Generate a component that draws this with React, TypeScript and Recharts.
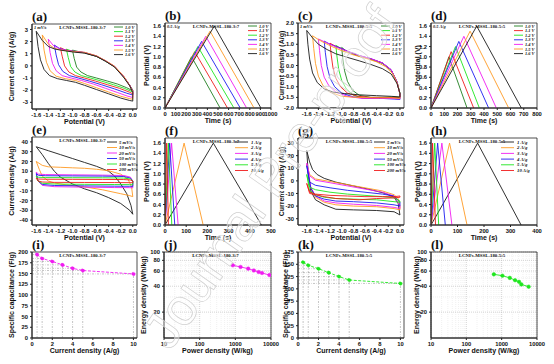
import React from 'react'
import { LineChart, Line, XAxis, YAxis, CartesianGrid, ReferenceLine, ReferenceArea } from 'recharts'

type Pt = [number, number]
type Box = { l: number; r: number; t: number; b: number }

const SANS = '"Liberation Sans", Arial, Helvetica, sans-serif'
const SERIF = '"Liberation Serif", "Times New Roman", serif'

const BLACK = '#1a1a1a'
const DKGREEN = '#1f7f1f'
const GREEN = '#1ee61e'
const RED = '#f01c1c'
const BLUE = '#1c1cf0'
const MAGENTA = '#f01cf0'
const ORANGE = '#ff9a22'

// ---------- (a) CV, different windows, 1 mV/s, 3:7 ----------
const windowLabels = ['1.0 V', '1.1 V', '1.2 V', '1.3 V', '1.4 V', '1.5 V', '1.6 V']
const a10: Pt[] = [[0, -2.05], [-0.1, -1.8], [-0.25, -1.5], [-0.42, -1.25], [-0.6, -1.0], [-0.75, -0.8], [-0.86, -0.5], [-0.93, -0.1], [-0.97, 0.6], [-1.0, 1.3], [-0.9, 1.18], [-0.8, 1.08], [-0.6, 0.78], [-0.45, 0.38], [-0.3, -0.08], [-0.15, -0.92], [-0.05, -1.6], [0, -2.0], [0, -2.05]]
const a11: Pt[] = [[0, -2.15], [-0.14, -1.85], [-0.32, -1.55], [-0.52, -1.25], [-0.7, -1.0], [-0.85, -0.8], [-0.96, -0.5], [-1.03, -0.05], [-1.07, 0.7], [-1.1, 1.38], [-1.02, 1.24], [-0.9, 1.14], [-0.8, 1.08], [-0.6, 0.79], [-0.45, 0.39], [-0.3, -0.07], [-0.15, -0.9], [-0.05, -1.6], [0, -2.02], [0, -2.15]]
const a12: Pt[] = [[0, -2.3], [-0.06, -2.15], [-0.22, -1.85], [-0.42, -1.55], [-0.62, -1.25], [-0.8, -1.0], [-0.95, -0.8], [-1.06, -0.5], [-1.13, 0.0], [-1.17, 0.8], [-1.2, 1.5], [-1.12, 1.32], [-1.0, 1.2], [-0.8, 1.09], [-0.6, 0.8], [-0.45, 0.4], [-0.3, -0.06], [-0.15, -0.9], [-0.05, -1.6], [0, -2.05], [0, -2.3]]
const a13: Pt[] = [[0, -2.4], [-0.1, -2.25], [-0.3, -1.9], [-0.52, -1.55], [-0.72, -1.25], [-0.9, -1.0], [-1.05, -0.8], [-1.16, -0.45], [-1.23, 0.1], [-1.27, 0.9], [-1.3, 1.72], [-1.22, 1.45], [-1.12, 1.3], [-1.0, 1.2], [-0.8, 1.1], [-0.6, 0.81], [-0.45, 0.41], [-0.3, -0.05], [-0.15, -0.88], [-0.05, -1.6], [0, -2.08], [0, -2.4]]
const a14: Pt[] = [[0, -2.6], [-0.08, -2.5], [-0.25, -2.2], [-0.45, -1.85], [-0.65, -1.5], [-0.85, -1.2], [-1.02, -1.0], [-1.17, -0.8], [-1.27, -0.4], [-1.33, 0.2], [-1.37, 1.1], [-1.4, 2.2], [-1.32, 1.7], [-1.22, 1.42], [-1.1, 1.28], [-0.9, 1.16], [-0.8, 1.11], [-0.6, 0.82], [-0.45, 0.42], [-0.3, -0.04], [-0.15, -0.86], [-0.05, -1.6], [0, -2.1], [0, -2.6]]
const a15: Pt[] = [[0, -2.75], [-0.05, -2.7], [-0.2, -2.5], [-0.4, -2.15], [-0.6, -1.8], [-0.8, -1.45], [-0.95, -1.2], [-1.12, -1.05], [-1.27, -0.85], [-1.37, -0.4], [-1.43, 0.3], [-1.47, 1.3], [-1.5, 2.55], [-1.4, 1.8], [-1.3, 1.45], [-1.2, 1.32], [-1.0, 1.18], [-0.8, 1.12], [-0.6, 0.83], [-0.45, 0.43], [-0.3, -0.03], [-0.15, -0.85], [-0.05, -1.62], [0, -2.15], [0, -2.75]]
const a16: Pt[] = [[0, -2.9], [-0.05, -2.85], [-0.2, -2.65], [-0.4, -2.3], [-0.6, -1.95], [-0.8, -1.6], [-0.95, -1.35], [-1.1, -1.2], [-1.25, -1.05], [-1.38, -0.8], [-1.47, -0.3], [-1.53, 0.5], [-1.57, 1.6], [-1.6, 2.85], [-1.5, 2.1], [-1.4, 1.6], [-1.3, 1.4], [-1.2, 1.3], [-1.0, 1.15], [-0.8, 1.05], [-0.6, 0.78], [-0.45, 0.38], [-0.3, -0.1], [-0.15, -0.95], [-0.05, -1.65], [0, -2.2], [0, -2.9]]

// ---------- (c) CV, different windows, 1 mV/s, 5:5 ----------
const c10: Pt[] = [[0, -1.5], [-0.1, -1.48], [-0.3, -1.5], [-0.5, -1.5], [-0.7, -1.4], [-0.82, -1.15], [-0.9, -0.75], [-0.95, -0.25], [-0.98, 0.3], [-1.0, 0.85], [-0.9, 0.64], [-0.7, 0.44], [-0.5, 0.29], [-0.3, 0.1], [-0.15, -0.22], [-0.05, -0.78], [0, -1.3], [0, -1.5]]
const c11: Pt[] = [[0, -1.5], [-0.2, -1.5], [-0.4, -1.55], [-0.62, -1.55], [-0.8, -1.4], [-0.92, -1.1], [-1.0, -0.7], [-1.05, -0.2], [-1.08, 0.4], [-1.1, 0.95], [-1.0, 0.78], [-0.9, 0.65], [-0.7, 0.45], [-0.5, 0.3], [-0.3, 0.11], [-0.15, -0.22], [-0.05, -0.78], [0, -1.32], [0, -1.5]]
const c12: Pt[] = [[0, -1.52], [-0.25, -1.5], [-0.5, -1.5], [-0.72, -1.45], [-0.9, -1.3], [-1.02, -1.0], [-1.1, -0.6], [-1.15, -0.1], [-1.18, 0.5], [-1.2, 1.05], [-1.1, 0.9], [-1.0, 0.79], [-0.9, 0.66], [-0.7, 0.46], [-0.5, 0.31], [-0.3, 0.12], [-0.15, -0.21], [-0.05, -0.78], [0, -1.33], [0, -1.52]]
const c13: Pt[] = [[0, -1.6], [-0.1, -1.58], [-0.3, -1.55], [-0.55, -1.55], [-0.8, -1.48], [-1.0, -1.3], [-1.12, -1.0], [-1.2, -0.6], [-1.25, -0.05], [-1.28, 0.6], [-1.3, 1.15], [-1.2, 1.0], [-1.1, 0.9], [-1.0, 0.8], [-0.9, 0.67], [-0.7, 0.47], [-0.5, 0.32], [-0.3, 0.12], [-0.15, -0.2], [-0.05, -0.78], [0, -1.34], [0, -1.6]]
const c14: Pt[] = [[0, -1.57], [-0.1, -1.55], [-0.35, -1.55], [-0.65, -1.55], [-0.9, -1.45], [-1.1, -1.25], [-1.22, -0.95], [-1.3, -0.55], [-1.35, 0.0], [-1.38, 0.7], [-1.4, 1.25], [-1.3, 1.12], [-1.2, 1.0], [-1.05, 0.82], [-0.9, 0.67], [-0.7, 0.47], [-0.5, 0.32], [-0.3, 0.12], [-0.15, -0.2], [-0.05, -0.78], [0, -1.35], [0, -1.57]]
const c15: Pt[] = [[0, -1.55], [-0.15, -1.52], [-0.45, -1.52], [-0.75, -1.5], [-1.0, -1.45], [-1.2, -1.25], [-1.32, -0.95], [-1.4, -0.5], [-1.45, 0.1], [-1.48, 0.8], [-1.5, 1.4], [-1.4, 1.22], [-1.3, 1.07], [-1.15, 0.87], [-1.0, 0.7], [-0.8, 0.5], [-0.6, 0.35], [-0.4, 0.17], [-0.25, -0.05], [-0.12, -0.4], [-0.04, -0.88], [0, -1.35], [0, -1.55]]
const c16: Pt[] = [[0, -1.48], [-0.15, -1.45], [-0.4, -1.42], [-0.7, -1.38], [-0.95, -1.32], [-1.15, -1.25], [-1.3, -1.1], [-1.42, -0.8], [-1.5, -0.35], [-1.55, 0.3], [-1.58, 1.0], [-1.6, 1.65], [-1.5, 1.3], [-1.4, 1.0], [-1.25, 0.75], [-1.1, 0.55], [-0.9, 0.38], [-0.7, 0.22], [-0.5, 0.05], [-0.3, -0.15], [-0.15, -0.4], [-0.05, -0.85], [0, -1.3], [0, -1.48]]

// ---------- (e) CV, scan rates, 3:7 ----------
const scanLabels = ['5 mV/s', '10 mV/s', '20 mV/s', '50 mV/s', '100 mV/s', '200 mV/s']
const e5: Pt[] = [[0, -34], [-0.05, -30], [-0.2, -23], [-0.4, -17], [-0.6, -12], [-0.8, -8], [-1.0, -3], [-1.2, 4], [-1.3, 10], [-1.4, 18], [-1.5, 27], [-1.6, 35], [-1.4, 31], [-1.2, 27], [-1.0, 23], [-0.8, 19], [-0.6, 15], [-0.4, 10], [-0.3, 5], [-0.2, -3], [-0.1, -13], [-0.03, -25], [0, -34]]
const e10: Pt[] = [[0, -16], [-0.05, -15], [-0.2, -13], [-0.5, -9], [-0.8, -6], [-1.1, -4], [-1.3, -2], [-1.4, 0], [-1.5, 5], [-1.55, 12], [-1.6, 20], [-1.5, 16], [-1.4, 14.5], [-1.2, 14], [-1.0, 13.5], [-0.8, 13], [-0.6, 12], [-0.4, 10.5], [-0.2, 7], [-0.08, 2], [-0.02, -6], [0, -16]]
const e20: Pt[] = [[0, -7], [-0.05, -6.8], [-0.3, -6.7], [-0.8, -6.3], [-1.3, -5.8], [-1.5, -4.5], [-1.57, 0], [-1.6, 9], [-1.56, 7], [-1.45, 6.6], [-1.0, 6.3], [-0.5, 6.0], [-0.15, 5.6], [-0.04, 4], [0, 0], [0, -7]]
const e50: Pt[] = [[0, -5.5], [-0.05, -5.4], [-0.3, -5.3], [-0.8, -5.0], [-1.3, -4.6], [-1.5, -3.5], [-1.57, 0], [-1.6, 7.5], [-1.56, 5.8], [-1.45, 5.4], [-1.0, 5.2], [-0.5, 5.0], [-0.15, 4.6], [-0.04, 3], [0, 0], [0, -5.5]]
const e100: Pt[] = [[0, -3.8], [-0.05, -3.7], [-0.3, -3.6], [-0.8, -3.4], [-1.3, -3.1], [-1.5, -2.3], [-1.57, 0], [-1.6, 5], [-1.56, 3.8], [-1.45, 3.5], [-1.0, 3.4], [-0.5, 3.3], [-0.15, 3.0], [-0.04, 2], [0, 0], [0, -3.8]]
const e200: Pt[] = [[0, -1.8], [-0.05, -1.7], [-0.3, -1.6], [-0.8, -1.5], [-1.3, -1.4], [-1.5, -1.0], [-1.57, 0], [-1.6, 2.8], [-1.56, 2.0], [-1.45, 1.8], [-1.0, 1.7], [-0.5, 1.6], [-0.15, 1.5], [-0.04, 1], [0, 0], [0, -1.8]]

// ---------- (g) CV, scan rates, 5:5 ----------
const g5: Pt[] = [[0, -27], [-0.1, -24.5], [-0.4, -23.5], [-0.8, -23], [-1.1, -22.5], [-1.3, -19], [-1.45, -15], [-1.53, -8], [-1.57, 3], [-1.6, 24], [-1.55, 15], [-1.5, 9], [-1.42, 5], [-1.3, 2], [-1.1, -1], [-0.8, -4], [-0.5, -7], [-0.25, -10], [-0.1, -13], [-0.03, -18], [0, -27]]
const g10: Pt[] = [[0, -23], [-0.1, -22], [-0.4, -20.5], [-0.8, -20], [-1.1, -19], [-1.3, -17], [-1.45, -13], [-1.53, -6], [-1.6, 13], [-1.55, 5], [-1.45, 1.5], [-1.2, -0.5], [-0.9, -3], [-0.6, -5.5], [-0.3, -8], [-0.1, -11], [-0.03, -14], [0, -20], [0, -23]]
const g20: Pt[] = [[0, -22], [-0.1, -21], [-0.4, -19.5], [-0.8, -18.5], [-1.1, -17.5], [-1.3, -16], [-1.45, -12], [-1.53, -5], [-1.6, 14], [-1.55, 4], [-1.45, 0.5], [-1.2, -1.5], [-0.9, -4], [-0.6, -6.5], [-0.3, -9], [-0.1, -12], [0, -20], [0, -22]]
const g50: Pt[] = [[0, -20], [-0.1, -19], [-0.4, -17.5], [-0.8, -16.5], [-1.1, -16], [-1.3, -14.5], [-1.45, -12], [-1.53, -6], [-1.6, 12], [-1.55, -1], [-1.45, -3.5], [-1.2, -5.5], [-0.9, -7.5], [-0.6, -9], [-0.3, -10.5], [-0.1, -12], [0, -17], [0, -20]]
const g100: Pt[] = [[0, -17], [-0.1, -16.5], [-0.4, -15], [-0.8, -14.5], [-1.1, -14], [-1.3, -13], [-1.45, -11], [-1.55, -8], [-1.6, 5], [-1.55, -5], [-1.45, -7], [-1.2, -9], [-0.9, -10.5], [-0.6, -11.5], [-0.3, -12.5], [-0.1, -13.5], [0, -16], [0, -17]]
const g200: Pt[] = [[0, -13], [-0.1, -13.5], [-0.4, -14], [-0.7, -15], [-0.9, -14.5], [-1.1, -14], [-1.3, -12.5], [-1.45, -11], [-1.55, -10], [-1.6, -2], [-1.55, -9], [-1.45, -10.5], [-1.2, -11.5], [-0.9, -12], [-0.6, -12.5], [-0.3, -12.5], [-0.1, -12.5], [0, -12], [0, -13]]

// ---------- GCD triangles ----------
const windowVolts = [1.0, 1.1, 1.2, 1.3, 1.4, 1.5, 1.6]
const bPeaks = [250, 280, 310, 345, 385, 425, 465]
const bEnds = [520, 590, 650, 710, 770, 840, 905]
const dPeaks = [135, 152, 185, 210, 248, 295, 345]
const dEnds = [272, 322, 365, 435, 493, 586, 682]

const rateLabels = ['1 A/g', '2 A/g', '3 A/g', '4 A/g', '5 A/g', '10 A/g']
const fPeaks = [228, 90, 31, 22, 16, 8]
const fEnds = [455, 180, 62, 46, 32, 16]
const hPeaks = [176, 70, 41, 25, 14, 6]
const hEnds = [340, 136, 79, 54, 29, 17]

// ---------- rate capability ----------
const currentDensity = [0.5, 1, 2, 3, 4, 5, 10]
const iCapacitance = [194, 185, 178, 170, 162, 157, 149]
const kCapacitance = [154, 148, 141, 133, 125, 118, 111]

// ---------- Ragone ----------
const jPower = [850, 1400, 2300, 3300, 4500, 5600, 9000]
const jEnergy = [70, 67, 64, 61, 58.5, 57, 54]
const lPower = [600, 1050, 1700, 2400, 3100, 3600, 5800]
const lEnergy = [55, 53, 50, 47, 45, 42, 39.5]

// ---------- ticks ----------
const cvXTicks = [-1.6, -1.4, -1.2, -1.0, -0.8, -0.6, -0.4, -0.2, 0]
const aYTicks = [-3, -2, -1, 0, 1, 2, 3]
const cYTicks = [-2, -1.5, -1, -0.5, 0, 0.5, 1, 1.5, 2]
const eYTicks = [-40, -30, -20, -10, 0, 10, 20, 30, 40]
const gYTicks = [-30, -20, -10, 0, 10, 20, 30]
const potTicks = [0, 0.2, 0.4, 0.6, 0.8, 1.0, 1.2, 1.4, 1.6]
const bXTicks = [0, 100, 200, 300, 400, 500, 600, 700, 800, 900, 1000]
const dXTicks = [0, 100, 200, 300, 400, 500, 600, 700, 800]
const fXTicks = [0, 100, 200, 300, 400, 500]
const hXTicks = [0, 100, 200, 300, 400]
const rateXTicks = [0, 2, 4, 6, 8, 10]
const iYTicks = [0, 25, 50, 75, 100, 125, 150, 175, 200]
const kYTicks = [0, 25, 50, 75, 100, 125, 150, 175]
const powerTicks = [10, 100, 1000, 10000]
const energyTicks = [20, 40, 60, 80, 100]
const powerMinor = [20, 30, 40, 50, 60, 70, 80, 90, 200, 300, 400, 500, 600, 700, 800, 900, 2000, 3000, 4000, 5000, 6000, 7000, 8000, 9000]
const energyMinor = [30, 50, 70, 90]

const windowColors = [DKGREEN, GREEN, RED, BLUE, MAGENTA, ORANGE, BLACK]
const gcdWindowColors = [DKGREEN, RED, GREEN, BLUE, MAGENTA, ORANGE, BLACK]
const rateColors = [BLACK, ORANGE, MAGENTA, BLUE, GREEN, RED]

const boxA: Box = { l: 32, r: 137, t: 24, b: 109 }
const boxB: Box = { l: 165, r: 271, t: 23, b: 108 }
const boxC: Box = { l: 298, r: 404, t: 23, b: 108 }
const boxD: Box = { l: 431, r: 537, t: 23, b: 108 }
const boxE: Box = { l: 32, r: 137, t: 137, b: 225 }
const boxF: Box = { l: 165, r: 271, t: 138, b: 225 }
const boxG: Box = { l: 298, r: 404, t: 138, b: 225 }
const boxH: Box = { l: 431, r: 537, t: 138, b: 225 }
const boxI: Box = { l: 32, r: 137, t: 252, b: 338 }
const boxJ: Box = { l: 164, r: 271, t: 252, b: 338 }
const boxK: Box = { l: 298, r: 404, t: 252, b: 338 }
const boxL: Box = { l: 431, r: 537, t: 252, b: 338 }

const tickFont = { fontSize: 5.8, fontWeight: 700, fill: '#111', fontFamily: SANS }
const fix1 = (v: number) => v.toFixed(1)
const plain = (v: number) => String(v)
const xy = (pts: Pt[]) => pts.map(([x, y]) => ({ x, y }))
const tri = (peak: number, end: number, v: number) => [
  { x: 0, y: 0 },
  { x: peak, y: v },
  { x: end, y: 0 }
]

function xAxis(domain: number[], ticks: number[], fmt: (v: number) => string, log = false) {
  return (
    <XAxis
      dataKey="x"
      type="number"
      scale={log ? 'log' : 'linear'}
      domain={domain}
      ticks={ticks}
      interval={0}
      tickFormatter={fmt}
      allowDataOverflow
      height={14}
      tick={tickFont}
      tickSize={2}
      tickLine={{ stroke: '#222' }}
      axisLine={{ stroke: '#222' }}
    />
  )
}

function yAxis(domain: number[], ticks: number[], fmt: (v: number) => string, log = false) {
  return (
    <YAxis
      type="number"
      scale={log ? 'log' : 'linear'}
      domain={domain}
      ticks={ticks}
      interval={0}
      tickFormatter={fmt}
      allowDataOverflow
      width={32}
      tick={tickFont}
      tickSize={2}
      tickLine={{ stroke: '#222' }}
      axisLine={{ stroke: '#222' }}
    />
  )
}

function frame(xd: number[], yd: number[]) {
  return <ReferenceArea x1={xd[0]} x2={xd[1]} y1={yd[0]} y2={yd[1]} fill="none" stroke="#222" strokeWidth={0.8} ifOverflow="visible" />
}

function series(data: { x: number; y: number }[], color: string, key: string, width = 0.9) {
  return <Line key={key} data={data} dataKey="y" type="linear" stroke={color} strokeWidth={width} dot={false} isAnimationActive={false} />
}

function Panel({ box, children }: { box: Box; children: React.ReactNode }) {
  return (
    <div style={{ position: 'absolute', left: box.l - 32, top: box.t - 5 }}>
      <LineChart width={box.r - box.l + 42} height={box.b - box.t + 19} margin={{ top: 5, right: 10, left: 0, bottom: 0 }}>
        {children}
      </LineChart>
    </div>
  )
}

type Legend = { labels: string[]; colors: string[]; lineDx: number; lineLen: number; textDx: number; y0: number; dy: number; fs: number }

function Decor({ box, letter, xTitle, yTitle, yTitleX, sample, note, legend }: {
  box: Box; letter: string; xTitle: string; yTitle: string; yTitleX: number; sample: string; note?: string; legend?: Legend
}) {
  const cx = (box.l + box.r) / 2
  const cy = (box.t + box.b) / 2
  return (
    <g>
      <text x={box.l} y={box.t - 3} fontFamily={SERIF} fontWeight="bold" fontSize={13} fill="#111">({letter})</text>
      <text x={cx} y={box.b + 14.5} textAnchor="middle" fontFamily={SANS} fontWeight="bold" fontSize={7} fill="#111">{xTitle}</text>
      <text transform={`translate(${yTitleX},${cy}) rotate(-90)`} textAnchor="middle" dy="0.35em" fontFamily={SANS} fontWeight="bold" fontSize={7} fill="#111">{yTitle}</text>
      <text x={cx - 2} y={box.t + 5} textAnchor="middle" fontFamily={SERIF} fontWeight="bold" fontSize={4.8} fill="#111">{sample}</text>
      {note && <text x={box.l + 2} y={box.t + 5} fontFamily={SERIF} fontStyle="italic" fontWeight="bold" fontSize={4.4} fill="#111">{note}</text>}
      {legend && legend.labels.map((lab, i) => {
        const y = box.t + legend.y0 + i * legend.dy
        return (
          <g key={lab}>
            <line x1={box.r - legend.lineDx} x2={box.r - legend.lineDx + legend.lineLen} y1={y} y2={y} stroke={legend.colors[i]} strokeWidth={0.9} />
            <text x={box.r - legend.textDx} y={y} dy="0.35em" fontFamily={SERIF} fontStyle="italic" fontWeight="bold" fontSize={legend.fs} fill="#111">{lab}</text>
          </g>
        )
      })}
    </g>
  )
}

const row1Legend = (labels: string[], colors: string[]): Legend => ({ labels, colors, lineDx: 23, lineLen: 9, textDx: 12, y0: 3, dy: 4.6, fs: 4.4 })

export default function App() {
  const aX = [-1.67, 0.07]
  const cX = [-1.75, 0.07]
  const aY = [-3.55, 3.45]
  const cY = [-2, 2]
  const eY = [-45, 45]
  const gY = [-35, 34]
  const pot1 = [0, 1.66]
  const pot2 = [0, 1.7]
  const rateX = [0, 10.35]
  const logX = [10, 10000]
  const logY = [10, 100]

  const aLoops = [a10, a11, a12, a13, a14, a15, a16]
  const cLoops = [c10, c11, c12, c13, c14, c15, c16]
  const eLoops = [e5, e10, e20, e50, e100, e200]
  const gLoops = [g5, g10, g20, g50, g100, g200]

  const rateBlock = (caps: number[], color: string, key: string) => [
    ...currentDensity.map((c, i) => (
      <ReferenceLine key={`${key}v${i}`} segment={[{ x: c, y: 0 }, { x: c, y: caps[i] }]} stroke="#8a8a8a" strokeWidth={0.5} strokeDasharray="2 1.2 0.6 1.2" />
    )),
    ...currentDensity.map((c, i) => (
      <ReferenceLine key={`${key}h${i}`} segment={[{ x: 0, y: caps[i] }, { x: c, y: caps[i] }]} stroke="#8a8a8a" strokeWidth={0.5} strokeDasharray="2 1.2 0.6 1.2" />
    )),
    <Line key={`${key}line`} data={currentDensity.map((c, i) => ({ x: c, y: caps[i] }))} dataKey="y" type="linear" stroke={color} strokeWidth={0.9} strokeDasharray="3 1.5"
      dot={{ r: 1.8, fill: color, stroke: color, strokeWidth: 0.5 }} isAnimationActive={false} />
  ]

  const ragone = (p: number[], e: number[], color: string, key: string) => [
    <CartesianGrid key={`${key}gm`} horizontalValues={energyMinor} verticalValues={powerMinor} stroke="#e2e2e2" strokeDasharray="1 1" strokeWidth={0.5} />,
    <CartesianGrid key={`${key}gM`} horizontalValues={energyTicks} verticalValues={powerTicks} stroke="#b8b8b8" strokeDasharray="1 1" strokeWidth={0.6} />,
    <Line key={`${key}line`} data={p.map((x, i) => ({ x, y: e[i] }))} dataKey="y" type="linear" stroke={color} strokeWidth={0.9}
      dot={{ r: 1.8, fill: color, stroke: color, strokeWidth: 0.5 }} isAnimationActive={false} />
  ]

  return (
    <div style={{ position: 'absolute', left: 0, top: 0, width: 554, height: 364, background: '#fff', overflow: 'hidden' }}>
      <Panel box={boxA}>
        {xAxis(aX, cvXTicks, fix1)}
        {yAxis(aY, aYTicks, plain)}
        {frame(aX, aY)}
        {aLoops.map((p, i) => series(xy(p), windowColors[i], `a${i}`))}
      </Panel>
      <Panel box={boxB}>
        {xAxis([0, 1000], bXTicks, plain)}
        {yAxis(pot1, potTicks, fix1)}
        {frame([0, 1000], pot1)}
        {windowVolts.map((v, i) => series(tri(bPeaks[i], bEnds[i], v), gcdWindowColors[i], `b${i}`))}
      </Panel>
      <Panel box={boxC}>
        {xAxis(cX, cvXTicks, fix1)}
        {yAxis(cY, cYTicks, fix1)}
        {frame(cX, cY)}
        {cLoops.map((p, i) => series(xy(p), windowColors[i], `c${i}`))}
      </Panel>
      <Panel box={boxD}>
        {xAxis([0, 800], dXTicks, plain)}
        {yAxis(pot1, potTicks, fix1)}
        {frame([0, 800], pot1)}
        {windowVolts.map((v, i) => series(tri(dPeaks[i], dEnds[i], v), gcdWindowColors[i], `d${i}`))}
      </Panel>
      <Panel box={boxE}>
        {xAxis(aX, cvXTicks, fix1)}
        {yAxis(eY, eYTicks, plain)}
        {frame(aX, eY)}
        {eLoops.map((p, i) => series(xy(p), rateColors[i], `e${i}`))}
      </Panel>
      <Panel box={boxF}>
        {xAxis([0, 500], fXTicks, plain)}
        {yAxis(pot2, potTicks, fix1)}
        {frame([0, 500], pot2)}
        {fPeaks.map((pk, i) => series(tri(pk, fEnds[i], 1.6), rateColors[i], `f${i}`))}
      </Panel>
      <Panel box={boxG}>
        {xAxis(cX, cvXTicks, fix1)}
        {yAxis(gY, gYTicks, plain)}
        {frame(cX, gY)}
        {gLoops.map((p, i) => series(xy(p), rateColors[i], `g${i}`))}
      </Panel>
      <Panel box={boxH}>
        {xAxis([0, 400], hXTicks, plain)}
        {yAxis(pot2, potTicks, fix1)}
        {frame([0, 400], pot2)}
        {hPeaks.map((pk, i) => series(tri(pk, hEnds[i], 1.6), rateColors[i], `h${i}`))}
      </Panel>
      <Panel box={boxI}>
        {xAxis(rateX, rateXTicks, plain)}
        {yAxis([0, 200], iYTicks, plain)}
        {frame(rateX, [0, 200])}
        {rateBlock(iCapacitance, MAGENTA, 'i')}
      </Panel>
      <Panel box={boxJ}>
        {xAxis(logX, powerTicks, plain, true)}
        {yAxis(logY, energyTicks, plain, true)}
        {ragone(jPower, jEnergy, MAGENTA, 'j')}
        {frame(logX, logY)}
      </Panel>
      <Panel box={boxK}>
        {xAxis(rateX, rateXTicks, plain)}
        {yAxis([0, 175], kYTicks, plain)}
        {frame(rateX, [0, 175])}
        {rateBlock(kCapacitance, GREEN, 'k')}
      </Panel>
      <Panel box={boxL}>
        {xAxis(logX, powerTicks, plain, true)}
        {yAxis(logY, energyTicks, plain, true)}
        {ragone(lPower, lEnergy, GREEN, 'l')}
        {frame(logX, logY)}
      </Panel>

      <svg width={554} height={364} style={{ position: 'absolute', left: 0, top: 0, pointerEvents: 'none' }}>
        <Decor box={boxA} letter="a" xTitle="Potential (V)" yTitle="Current density (A/g)" yTitleX={12} sample="LCNFs-MSSL-180-3:7" note="1 mV/s" legend={row1Legend(windowLabels, windowColors)} />
        <Decor box={boxB} letter="b" xTitle="Time (s)" yTitle="Potential (V)" yTitleX={147} sample="LCNFs-MSSL-180-3:7" note="0.5 A/g" legend={row1Legend(windowLabels, gcdWindowColors)} />
        <Decor box={boxC} letter="c" xTitle="Potential (V)" yTitle="Current density (A/g)" yTitleX={282} sample="LCNFs-MSSL-180-5:5" note="1 mV/s" legend={row1Legend(windowLabels, windowColors)} />
        <Decor box={boxD} letter="d" xTitle="Time (s)" yTitle="Potential (V)" yTitleX={418} sample="LCNFs-MSSL-180-5:5" note="0.5 A/g" legend={row1Legend(windowLabels, gcdWindowColors)} />
        <Decor box={boxE} letter="e" xTitle="Potential (V)" yTitle="Current density (A/g)" yTitleX={12} sample="LCNFs-MSSL-180-3:7"
          legend={{ labels: scanLabels, colors: rateColors, lineDx: 30, lineLen: 10, textDx: 18, y0: 5, dy: 5.5, fs: 4.8 }} />
        <Decor box={boxF} letter="f" xTitle="Time (s)" yTitle="Potential (V)" yTitleX={147} sample="LCNFs-MSSL-180-3:7"
          legend={{ labels: rateLabels, colors: rateColors, lineDx: 36, lineLen: 13, textDx: 20, y0: 4, dy: 5.7, fs: 4.8 }} />
        <Decor box={boxG} letter="g" xTitle="Potential (V)" yTitle="Current density (A/g)" yTitleX={282} sample="LCNFs-MSSL-180-5:5"
          legend={{ labels: scanLabels, colors: rateColors, lineDx: 30, lineLen: 11, textDx: 17, y0: 4, dy: 5.7, fs: 4.8 }} />
        <Decor box={boxH} letter="h" xTitle="Time (s)" yTitle="Potential (V)" yTitleX={418} sample="LCNFs-MSSL-180-5:5"
          legend={{ labels: rateLabels, colors: rateColors, lineDx: 36, lineLen: 13, textDx: 20, y0: 4, dy: 5.7, fs: 4.8 }} />
        <Decor box={boxI} letter="i" xTitle="Current density (A/g)" yTitle="Specific capacitance (F/g)" yTitleX={12} sample="LCNFs-MSSL-180-3:7" />
        <Decor box={boxJ} letter="j" xTitle="Power density (W/kg)" yTitle="Energy density (Wh/kg)" yTitleX={144} sample="LCNFs-MSSL-180-3:7" />
        <Decor box={boxK} letter="k" xTitle="Current density (A/g)" yTitle="Specific capacitance (F/g)" yTitleX={286} sample="LCNFs-MSSL-180-5:5" />
        <Decor box={boxL} letter="l" xTitle="Power density (W/kg)" yTitle="Energy density (Wh/kg)" yTitleX={417} sample="LCNFs-MSSL-180-5:5" />
        <text transform="translate(170,352) rotate(-55)" fontFamily={SANS} fontSize={52} fill="#ffffff" fillOpacity={0.45} stroke="#d0d0d0" strokeWidth={0.7}>
          Journal Pre-proof
        </text>
      </svg>
    </div>
  )
}
